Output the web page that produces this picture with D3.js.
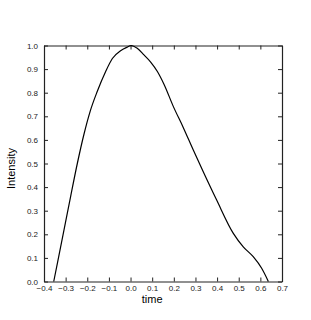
<!DOCTYPE html>
<html>
<head>
<meta charset="utf-8">
<script src="https://cdn.jsdelivr.net/npm/d3@7"></script>
<style>
  body { margin: 0; background: #fff; }
  text { font-family: "Liberation Sans", Arial, sans-serif; }
</style>
</head>
<body>
<svg id="chart" width="311" height="320"></svg>
<script>
// values
const time = [-0.355, -0.338, -0.305, -0.277, -0.246, -0.215, -0.187, -0.154, -0.115, -0.084,
  -0.046, -0.018, 0.003, 0.031, 0.062, 0.093, 0.124, 0.155, 0.198, 0.244,
  0.29, 0.336, 0.398, 0.475, 0.521, 0.567, 0.606, 0.637];
const intensity = [0, 0.078, 0.23, 0.36, 0.5, 0.625, 0.72, 0.805, 0.89, 0.945,
  0.978, 0.992, 1.0, 0.988, 0.960, 0.93, 0.89, 0.835, 0.741, 0.652,
  0.557, 0.465, 0.345, 0.204, 0.147, 0.105, 0.056, 0.0];
const xTicks = [-0.4, -0.3, -0.2, -0.1, 0.0, 0.1, 0.2, 0.3, 0.4, 0.5, 0.6, 0.7];
const yTicks = [0, 0.1, 0.2, 0.3, 0.4, 0.5, 0.6, 0.7, 0.8, 0.9, 1.0];

var margin = {top: 45.5, right: 29, bottom: 38.5, left: 44},
    width = 311 - margin.left - margin.right,
    height = 320 - margin.top - margin.bottom;

const svg = d3.select("#chart")
  .append("g")
  .attr("transform", "translate(" + margin.left + "," + margin.top + ")");

var x = d3.scaleLinear().domain([-0.4, 0.7]).range([0, width]);
var y = d3.scaleLinear().domain([0, 1]).range([height, 0]);

const fmt = d3.format(".1f");

// bottom axis, ticks pointing inward
svg.append("g")
  .attr("transform", "translate(0," + height + ")")
  .call(d3.axisBottom(x).tickValues(xTicks).tickFormat(fmt).tickSizeInner(-4).tickSizeOuter(0).tickPadding(3.5));
// top axis, no labels
svg.append("g")
  .call(d3.axisTop(x).tickValues(xTicks).tickFormat("").tickSizeInner(-4).tickSizeOuter(0));
// left axis
svg.append("g")
  .call(d3.axisLeft(y).tickValues(yTicks).tickFormat(fmt).tickSizeInner(-4).tickSizeOuter(0).tickPadding(6));
// right axis
svg.append("g")
  .attr("transform", "translate(" + width + ",0)")
  .call(d3.axisRight(y).tickValues(yTicks).tickFormat("").tickSizeInner(-4).tickSizeOuter(0));

svg.selectAll(".domain").attr("stroke", "#222").attr("stroke-width", 1.2);
svg.selectAll(".tick line").attr("stroke", "#222");
svg.selectAll(".tick text").style("font-size", "8px").attr("fill", "#222");

const pts = time.map((t, i) => [t, intensity[i]]);
svg.append("path")
  .datum(pts)
  .attr("fill", "none")
  .attr("stroke", "black")
  .attr("stroke-width", 1.2)
  .attr("d", d3.line().x(d => x(d[0])).y(d => y(d[1])).curve(d3.curveMonotoneX));

svg.append("text")
  .text("time")
  .attr("x", x(0.1))
  .attr("y", height + 21)
  .attr("text-anchor", "middle")
  .style("font-size", "11px");

svg.append("text")
  .text("Intensity")
  .attr("transform", "translate(" + (-29) + "," + (height / 2 + 5) + ") rotate(-90)")
  .attr("text-anchor", "middle")
  .style("font-size", "11px");
</script>
</body>
</html>
